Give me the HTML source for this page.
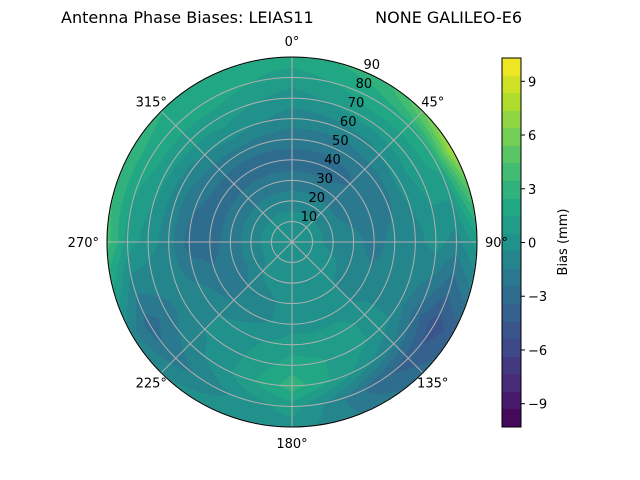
<!DOCTYPE html>
<html><head><meta charset="utf-8"><style>
body{margin:0;background:#fff;}
#wrap{position:relative;width:640px;height:480px;font-family:"DejaVu Sans","Liberation Sans",sans-serif;}
canvas,svg{position:absolute;left:0;top:0;}
</style></head><body>
<div id="wrap">
<canvas id="cv" width="640" height="480"></canvas>
<svg id="sv" width="640" height="480" font-family="DejaVu Sans, Liberation Sans, sans-serif"></svg>
</div>
<script>
// azimuth (deg, clockwise from north) and radial ticks
const azimuths = [0,30,60,90,120,150,180,210,240,270,300,330];
const radii = [0,10,20,30,40,50,60,70,80,90];
const biasAz0   = [0,0,-1,-2,-3,-2,-1,0,1,2];
const biasAz30  = [0,0,-1,-2,-3,-2,-1,1,2,3];
const biasAz60  = [0,0,-1,-2,-2,-2,0,1,2,8];
const biasAz90  = [0,0,-1,-1,-2,-1,-1,0,-1,1];
const biasAz120 = [0,0,0,-1,-1,-1,-1,-3,-5,-4];
const biasAz150 = [0,0,0,0,0,1,1,0,-3,-2];
const biasAz180 = [0,0,0,0,0,1,2,3,1,0];
const biasAz210 = [0,0,0,-1,-1,0,0,0,-1,0];
const biasAz240 = [0,0,-1,-2,-2,-1,-1,-2,-3,-1];
const biasAz270 = [0,0,-1,-2,-3,-3,-1,0,1,4];
const biasAz300 = [0,0,-1,-2,-3,-2,-1,1,2,3];
const biasAz330 = [0,0,-1,-2,-3,-2,0,1,2,2];
const grid = [biasAz0,biasAz30,biasAz60,biasAz90,biasAz120,biasAz150,biasAz180,biasAz210,biasAz240,biasAz270,biasAz300,biasAz330];
const radialTicks = [10,20,30,40,50,60,70,80,90];
const angleTicks = [0,45,90,135,180,225,270,315];
const cbTicks = [-9,-6,-3,0,3,6,9];

const cx=292, cy=242, R=185, rMax=90;
const vmin=-10.3, vmax=10.3, nLev=21;
const cbX=502, cbW=19, cbTop=58, cbBot=427;
function rScale(r){return r/rMax*R;}
function cbY(v){return cbBot-(v-vmin)/(vmax-vmin)*(cbBot-cbTop);}

const vir=[[68,1,84],[72,36,117],[65,68,135],[53,95,141],[42,120,142],[33,145,140],[34,168,132],[68,190,112],[122,209,81],[189,223,38],[253,231,37]];
function viridis(t){t=Math.max(0,Math.min(1,t));const p=t*(vir.length-1),i=Math.min(vir.length-2,Math.floor(p)),f=p-i;
 return vir[i].map((c,k)=>Math.round(c+(vir[i+1][k]-c)*f));}
function levelColor(v){let b=Math.floor((v-vmin)/(vmax-vmin)*nLev);b=Math.max(0,Math.min(nLev-1,b));return viridis((b+0.5)/nLev);}

function sample(az,r){
 const step=360/azimuths.length;let a=((az%360)+360)%360;
 const i0=Math.floor(a/step)%azimuths.length,i1=(i0+1)%azimuths.length,fa=a/step-Math.floor(a/step);
 const rs=radii[1]-radii[0];let j0=Math.min(radii.length-2,Math.floor(r/rs));const fr=Math.min(1,r/rs-j0);
 const v00=grid[i0][j0],v01=grid[i0][j0+1],v10=grid[i1][j0],v11=grid[i1][j0+1];
 return (v00*(1-fr)+v01*fr)*(1-fa)+(v10*(1-fr)+v11*fr)*fa;
}
const ctx=document.getElementById('cv').getContext('2d');
const img=ctx.createImageData(640,480);
for(let y=0;y<480;y++)for(let x=0;x<640;x++){
 const dx=x+0.5-cx,dy=y+0.5-cy,d=Math.hypot(dx,dy);if(d>R)continue;
 const az=Math.atan2(dx,-dy)*180/Math.PI;const c=levelColor(sample(az,d/R*rMax));
 const o=(y*640+x)*4;img.data[o]=c[0];img.data[o+1]=c[1];img.data[o+2]=c[2];img.data[o+3]=255;}
for(let b=0;b<nLev;b++){const c=levelColor(vmin+(b+0.5)*(vmax-vmin)/nLev);
 const y0=Math.round(cbY(vmin+(b+1)*(vmax-vmin)/nLev)),y1=Math.round(cbY(vmin+b*(vmax-vmin)/nLev));
 for(let y=y0;y<y1;y++)for(let x=cbX;x<cbX+cbW;x++){const o=(y*640+x)*4;img.data[o]=c[0];img.data[o+1]=c[1];img.data[o+2]=c[2];img.data[o+3]=255;}}
ctx.putImageData(img,0,0);

const sv=document.getElementById('sv');const NS='http://www.w3.org/2000/svg';
function el(t,a,txt){const e=document.createElementNS(NS,t);for(const k in a)e.setAttribute(k,a[k]);if(txt!==undefined)e.textContent=txt;sv.appendChild(e);return e;}
radialTicks.forEach(r=>{const e=el('circle',{cx:cx,cy:cy,r:rScale(r),fill:'none',stroke:'#b0b0b0','stroke-width':1});
 
 });
angleTicks.forEach(a=>{const t=a*Math.PI/180;const e=el('line',{x1:cx,y1:cy,x2:cx+R*Math.sin(t),y2:cy-R*Math.cos(t),stroke:'#b0b0b0','stroke-width':1});
 
 
 const lr=R+14;let anchor='middle';if(a===90)anchor='start';if(a===270)anchor='end';
 const lx=cx+lr*Math.sin(t)+(a===90?-6:a===270?6:0),ly=cy-lr*Math.cos(t)+5+(a===0?-2:a===180?2:0);
 const l=el('text',{x:lx,y:ly,'font-size':13,'text-anchor':anchor,fill:'#000'},a+'°');
 
 });
const border=el('circle',{cx:cx,cy:cy,r:R,fill:'none',stroke:'#000','stroke-width':1});


radialTicks.forEach(r=>{const t=22.5*Math.PI/180;const d=rScale(r);
 const l=el('text',{x:cx+d*Math.sin(t)+9,y:cy-d*Math.cos(t)-2,'font-size':13,'text-anchor':'middle',fill:'#000'},String(r));
 
 });
const cbf=el('rect',{x:cbX,y:cbTop,width:cbW,height:cbBot-cbTop,fill:'none',stroke:'#000','stroke-width':1});


cbTicks.forEach(v=>{const y=cbY(v);const tk=el('line',{x1:cbX+cbW,x2:cbX+cbW+4,y1:y,y2:y,stroke:'#000'});
 
 
 const l=el('text',{x:cbX+cbW+7,y:y+5,'font-size':13,fill:'#000'},v<0?'\u2212'+(-v):String(v));
 
 });
const cbl=el('text',{x:567,y:242,'font-size':13,'text-anchor':'middle',transform:'rotate(-90 567 242)',fill:'#000'},'Bias (mm)');


const tt=el('text',{x:61,y:23,'font-size':16,'text-anchor':'start',fill:'#000'},'Antenna Phase Biases: LEIAS11');


const tt2=el('text',{x:522,y:23,'font-size':16,'text-anchor':'end',fill:'#000'},'NONE GALILEO-E6');


</script>
</body></html>
